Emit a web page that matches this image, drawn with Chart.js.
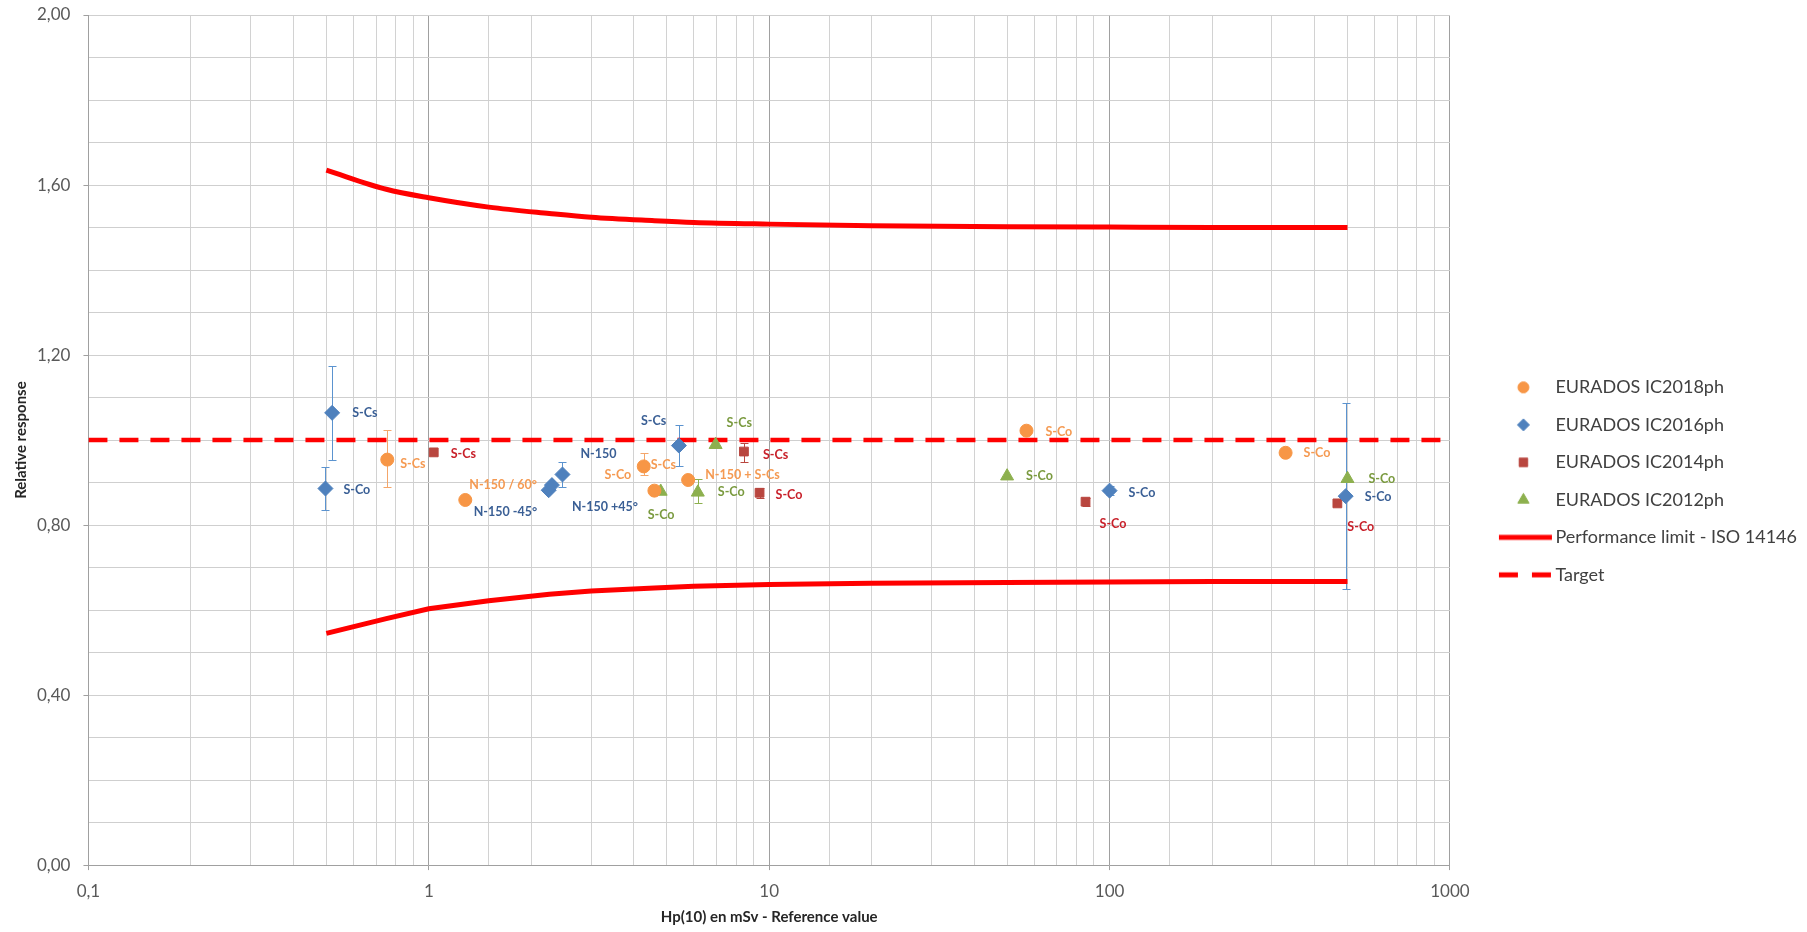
<!DOCTYPE html>
<html lang="fr">
<head>
  <meta charset="UTF-8" />
  <title>Relative response - EURADOS IC</title>
  <script src="https://cdn.jsdelivr.net/npm/chart.js"></script>
  <style>
    html, body { margin: 0; padding: 0; background: #ffffff; }
    .wrap { width: 1807px; height: 932px; }
  </style>
</head>
<body>
<div class="wrap"><canvas id="respChart"></canvas></div>
<script>
  // ---- data ----
  const SERIES_NAMES = ['EURADOS IC2018ph', 'EURADOS IC2016ph', 'EURADOS IC2014ph', 'EURADOS IC2012ph'];
  const LIMIT_NAME = 'Performance limit - ISO 14146';
  const TARGET_NAME = 'Target';

  const IC2018_X = [0.755, 1.28, 4.28, 4.6, 5.78, 57, 329];
  const IC2018_Y = [0.954, 0.859, 0.938, 0.881, 0.906, 1.022, 0.970];
  const IC2018_LOW = [0.890, null, 0.918, null, null, 1.012, null];
  const IC2018_HIGH = [1.024, null, 0.969, null, null, 1.032, null];
  const IC2018_TAGS = ['S-Cs', 'N-150 / 60°', 'S-Cs', 'S-Co', 'N-150 + S-Cs', 'S-Co', 'S-Co'];

  const IC2016_X = [0.52, 0.497, 2.25, 2.30, 2.47, 5.43, 100, 494];
  const IC2016_Y = [1.064, 0.886, 0.882, 0.894, 0.919, 0.987, 0.881, 0.868];
  const IC2016_LOW = [0.952, 0.836, null, null, 0.890, 0.938, 0.870, 0.649];
  const IC2016_HIGH = [1.175, 0.936, null, null, 0.948, 1.036, 0.893, 1.087];
  const IC2016_TAGS = ['S-Cs', 'S-Co', 'N-150 -45°', 'N-150 +45°', 'N-150', 'S-Cs', 'S-Co', 'S-Co'];

  const IC2014_X = [1.034, 8.43, 9.37, 85, 467];
  const IC2014_Y = [0.971, 0.973, 0.876, 0.855, 0.851];
  const IC2014_LOW = [null, 0.948, 0.864, 0.846, null];
  const IC2014_HIGH = [null, 0.993, 0.888, 0.864, null];
  const IC2014_TAGS = ['S-Cs', 'S-Cs', 'S-Co', 'S-Co', 'S-Co'];

  const IC2012_X = [4.80, 6.17, 6.96, 50, 500];
  const IC2012_Y = [0.879, 0.877, 0.989, 0.915, 0.909];
  const IC2012_LOW = [null, 0.853, null, null, null];
  const IC2012_HIGH = [null, 0.909, null, null, null];
  const IC2012_TAGS = ['S-Co', 'S-Co', 'S-Cs', 'S-Co', 'S-Co'];

  const LIMIT_X = [0.5, 0.75, 1, 1.5, 2.26, 3, 4.6, 6, 10, 20, 50, 100, 200, 500];
  const LIMIT_UPPER = [1.635, 1.590, 1.570, 1.548, 1.533, 1.524, 1.516, 1.512, 1.508, 1.504, 1.502, 1.501, 1.500, 1.500];
  const LIMIT_LOWER = [0.545, 0.580, 0.603, 0.622, 0.637, 0.645, 0.652, 0.656, 0.660, 0.663, 0.665, 0.666, 0.667, 0.667];

  const TARGET_X = [0.1, 1000];
  const TARGET_Y = [1, 1];

  const X_TICK_VALUES = [0.1, 1, 10, 100, 1000];
  const X_TICK_LABELS = ['0,1', '1', '10', '100', '1000'];
  const Y_TICK_LABELS = ['0,00', '0,40', '0,80', '1,20', '1,60', '2,00'];

  const X_TITLE = 'Hp(10) en mSv - Reference value';
  const Y_TITLE = 'Relative response';

  // ---- label offsets (px, from the marker centre) ----
  const IC2018_TAG_DX = [13, 4, 7, -50, 17, 19, 18];
  const IC2018_TAG_DY = [4, -15, -1, -16, -5, 1, 0];
  const IC2016_TAG_DX = [20, 18, -75, 20, 18, -38, 19, 19];
  const IC2016_TAG_DY = [0, 1, 22, 22, -21, -25, 2, 1];
  const IC2014_TAG_DX = [17, 19, 16, 14, 10];
  const IC2014_TAG_DY = [2, 3, 2, 22, 24];
  const IC2012_TAG_DX = [-13, 20, 11, 19, 21];
  const IC2012_TAG_DY = [23, 0, -22, 0, 0];

  // ---- styles ----
  const FONT = 'Lato, "DejaVu Sans", sans-serif';
  const ORANGE = '#F79646';
  const BLUE = '#4F81BD';
  const DARKRED = '#B9463F';
  const GREEN = '#8DB04E';
  const RED = '#FF0000';

  const LEGEND_BOX = 77;
  const ICON_W = 130;

  Chart.defaults.font.family = FONT;

  function pts(xs, ys) {
    return xs.map((v, i) => ({ x: v, y: ys[i] }));
  }

  // legend icon: small canvas, content pushed right inside the box
  function markerIcon(style, radius, color) {
    const c = document.createElement('canvas');
    c.width = ICON_W; c.height = 24;
    const g = c.getContext('2d');
    g.fillStyle = color; g.strokeStyle = color;
    Chart.helpers.drawPoint(g, { pointStyle: style, radius: radius, borderWidth: 1 }, ICON_W / 2 + 15.5, 12);
    return c;
  }
  function lineIcon(dash) {
    const c = document.createElement('canvas');
    c.width = ICON_W; c.height = 24;
    const g = c.getContext('2d');
    g.strokeStyle = RED; g.lineWidth = 5;
    g.setLineDash(dash);
    const cx = ICON_W / 2 + 17.5;
    g.beginPath(); g.moveTo(cx - 26.5, 12); g.lineTo(cx + 26.5, 12); g.stroke();
    return c;
  }

  function isDecade(v) {
    const l = Math.log10(v);
    return Math.abs(l - Math.round(l)) < 1e-6;
  }

  const datasets = [
    {
      label: SERIES_NAMES[0], data: pts(IC2018_X, IC2018_Y),
      pointStyle: 'circle', pointRadius: 6.5, backgroundColor: ORANGE, borderColor: ORANGE, borderWidth: 1,
      errLow: IC2018_LOW, errHigh: IC2018_HIGH, errColor: '#F4A66A',
      tags: IC2018_TAGS, tagDx: IC2018_TAG_DX, tagDy: IC2018_TAG_DY, tagColor: '#F59A52',
      icon: markerIcon('circle', 5.5, ORANGE)
    },
    {
      label: SERIES_NAMES[1], data: pts(IC2016_X, IC2016_Y),
      pointStyle: 'rectRot', pointRadius: 7.5, backgroundColor: BLUE, borderColor: BLUE, borderWidth: 1,
      errLow: IC2016_LOW, errHigh: IC2016_HIGH, errColor: '#5B93CF',
      tags: IC2016_TAGS, tagDx: IC2016_TAG_DX, tagDy: IC2016_TAG_DY, tagColor: '#3A5F95',
      icon: markerIcon('rectRot', 6, BLUE)
    },
    {
      label: SERIES_NAMES[2], data: pts(IC2014_X, IC2014_Y),
      pointStyle: 'rect', pointRadius: 6.2, backgroundColor: DARKRED, borderColor: DARKRED, borderWidth: 1,
      errLow: IC2014_LOW, errHigh: IC2014_HIGH, errColor: DARKRED,
      tags: IC2014_TAGS, tagDx: IC2014_TAG_DX, tagDy: IC2014_TAG_DY, tagColor: '#C8202A',
      icon: markerIcon('rect', 6, DARKRED)
    },
    {
      label: SERIES_NAMES[3], data: pts(IC2012_X, IC2012_Y),
      pointStyle: 'triangle', pointRadius: 7.5, backgroundColor: GREEN, borderColor: GREEN, borderWidth: 1,
      errLow: IC2012_LOW, errHigh: IC2012_HIGH, errColor: GREEN,
      tags: IC2012_TAGS, tagDx: IC2012_TAG_DX, tagDy: IC2012_TAG_DY, tagColor: '#7A9A3F',
      icon: markerIcon('triangle', 6.5, GREEN)
    },
    {
      label: LIMIT_NAME, data: pts(LIMIT_X, LIMIT_UPPER),
      showLine: true, pointRadius: 0, borderColor: RED, borderWidth: 5, cubicInterpolationMode: 'monotone',
      icon: lineIcon([])
    },
    {
      label: LIMIT_NAME, data: pts(LIMIT_X, LIMIT_LOWER),
      showLine: true, pointRadius: 0, borderColor: RED, borderWidth: 5, tension: 0,
      hideInLegend: true
    },
    {
      label: TARGET_NAME, data: pts(TARGET_X, TARGET_Y),
      showLine: true, pointRadius: 0, borderColor: RED, borderWidth: 4.5, borderDash: [19, 12],
      icon: lineIcon([19, 14])
    }
  ];

  // error bars, drawn under the markers
  const errorBars = {
    id: 'errorBars',
    beforeDatasetsDraw(chart) {
      const { ctx, scales: { x, y } } = chart;
      chart.data.datasets.forEach((ds) => {
        if (!ds.errLow) return;
        ctx.save();
        ctx.strokeStyle = ds.errColor;
        ctx.lineWidth = 1;
        ds.data.forEach((p, j) => {
          if (ds.errLow[j] == null) return;
          const px = Math.round(x.getPixelForValue(p.x)) + 0.5;
          const top = Math.round(y.getPixelForValue(ds.errHigh[j])) + 0.5;
          const bot = Math.round(y.getPixelForValue(ds.errLow[j])) + 0.5;
          ctx.beginPath();
          ctx.moveTo(px, top); ctx.lineTo(px, bot);
          ctx.moveTo(px - 4, top); ctx.lineTo(px + 4, top);
          ctx.moveTo(px - 4, bot); ctx.lineTo(px + 4, bot);
          ctx.stroke();
        });
        ctx.restore();
      });
    }
  };

  // text tags next to the markers
  const pointTags = {
    id: 'pointTags',
    afterDatasetsDraw(chart) {
      const ctx = chart.ctx;
      ctx.save();
      ctx.font = 'bold 12.5px ' + FONT;
      ctx.textBaseline = 'middle';
      ctx.textAlign = 'left';
      chart.data.datasets.forEach((ds, i) => {
        if (!ds.tags) return;
        const meta = chart.getDatasetMeta(i);
        ctx.fillStyle = ds.tagColor;
        ds.tags.forEach((t, j) => {
          const el = meta.data[j];
          ctx.fillText(t, el.x + ds.tagDx[j], el.y + ds.tagDy[j]);
        });
      });
      ctx.restore();
    }
  };

  new Chart(document.getElementById('respChart'), {
    type: 'scatter',
    data: { datasets: datasets },
    options: {
      responsive: true,
      maintainAspectRatio: false,
      animation: false,
      events: [],
      layout: { padding: { left: 8, right: 0, top: 15, bottom: 2 } },
      scales: {
        x: {
          type: 'logarithmic',
          min: 0.1,
          max: 1000,
          title: {
            display: true, text: X_TITLE, color: '#262626',
            font: { family: FONT, size: 15, weight: 'bold' },
            padding: { top: -4.5, bottom: 4 }
          },
          ticks: {
            autoSkip: false, maxRotation: 0, padding: 11, color: '#595959',
            font: { family: FONT, size: 17 },
            callback: (v) => {
              const i = X_TICK_VALUES.findIndex((t) => Math.abs(v / t - 1) < 1e-6);
              return i >= 0 ? X_TICK_LABELS[i] : '';
            }
          },
          grid: {
            color: (c) => (c.tick && isDecade(c.tick.value)) ? '#A0A0A0' : '#D2D2D2',
            tickColor: (c) => (c.tick && isDecade(c.tick.value)) ? '#A0A0A0' : 'rgba(0,0,0,0)',
            tickLength: 5
          },
          border: { color: '#A0A0A0' }
        },
        y: {
          min: 0,
          max: 2,
          afterFit: (scale) => { scale.paddingTop = 0; },
          title: {
            display: true, text: Y_TITLE, color: '#262626',
            font: { family: FONT, size: 15, weight: 'bold' },
            padding: { top: 4, bottom: -6 }
          },
          ticks: {
            stepSize: 0.1, padding: 13, color: '#595959',
            font: { family: FONT, size: 17 },
            callback: (v) => {
              const k = Math.round(v * 10);
              return k % 4 === 0 ? Y_TICK_LABELS[k / 4] : '';
            }
          },
          grid: {
            color: '#CFCFCF',
            tickColor: (c) => (c.tick && Math.round(c.tick.value * 10) % 4 === 0) ? '#A0A0A0' : 'rgba(0,0,0,0)',
            tickLength: 5
          },
          border: { color: '#A0A0A0' }
        }
      },
      plugins: {
        tooltip: { enabled: false },
        legend: {
          position: 'right',
          align: 'center',
          title: { display: true, text: '', font: { size: 1 }, padding: { top: 8, bottom: 8 } },
          labels: {
            usePointStyle: true,
            pointStyleWidth: LEGEND_BOX,
            padding: 19.5,
            color: '#404040',
            font: { family: FONT, size: 18 },
            generateLabels: (chart) => chart.data.datasets
              .map((ds, i) => ({
                text: ds.label,
                pointStyle: ds.icon,
                fillStyle: 'rgba(0,0,0,0)',
                strokeStyle: 'rgba(0,0,0,0)',
                lineWidth: 0,
                fontColor: '#404040',
                hidden: false,
                datasetIndex: i,
                skip: !!ds.hideInLegend
              }))
              .filter((item) => !item.skip)
          }
        }
      }
    },
    plugins: [errorBars, pointTags]
  });
</script>
</body>
</html>
